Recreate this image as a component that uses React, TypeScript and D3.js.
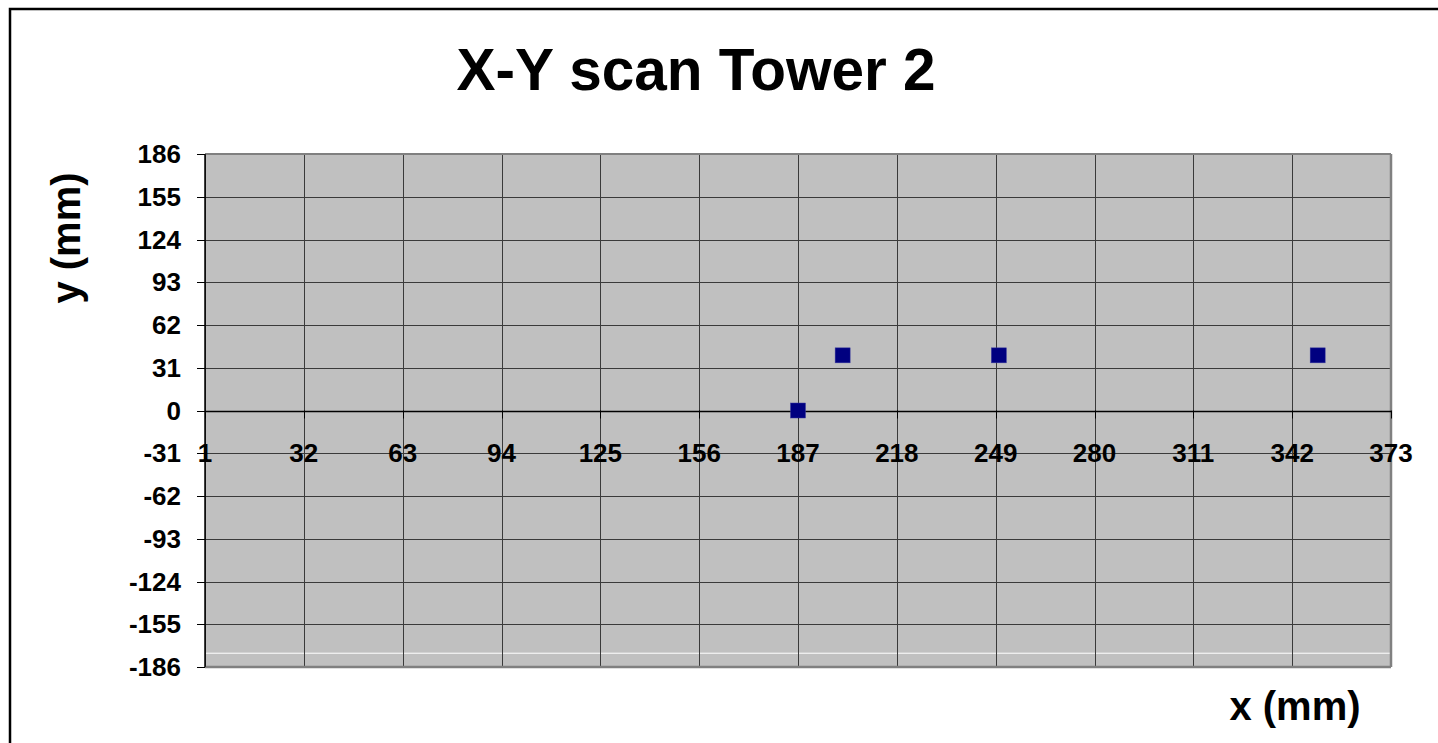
import React from "react";
import * as d3 from "d3";

const title = "X-Y scan Tower 2";
const xTitle = "x (mm)";
const yTitle = "y (mm)";
const xTicks = [1, 32, 63, 94, 125, 156, 187, 218, 249, 280, 311, 342, 373];
const yTicks = [186, 155, 124, 93, 62, 31, 0, -31, -62, -93, -124, -155, -186];
const xValues = [187, 201, 250, 350];
const yValues = [0, 40, 40, 40];
const whiteLineY = -176;

const W = 1438;
const H = 743;
const L = 205, R = 1391, T = 154, B = 667;

export default function App() {
  const x = d3.scaleLinear().domain([1, 373]).range([L, R]);
  const y = d3.scaleLinear().domain([-186, 186]).range([B, T]);
  const pts = xValues.map((v, i) => ({ x: v, y: yValues[i] }));
  const font = "Arial, 'Liberation Sans', Helvetica, sans-serif";
  const ms = 15;
  return (
    <svg width={W} height={H} style={{ position: "absolute", left: 0, top: 0, background: "#fff" }} fontFamily={font}>
      <rect x={10} y={9} width={W + 20} height={H + 20} fill="#fff" stroke="#000" strokeWidth={2.5} />
      <text x={696} y={90} textAnchor="middle" fontSize={58.5} fontWeight="bold">{title}</text>
      <rect x={L} y={T} width={R - L} height={B - T} fill="#c0c0c0" />
      {/* white artifact line */}
      <line x1={L} x2={R} y1={y(whiteLineY)} y2={y(whiteLineY)} stroke="#fff" strokeWidth={1} />
      {yTicks.map((t) => (
        <line key={"gy" + t} x1={L} x2={R} y1={Math.round(y(t)) + 0.5} y2={Math.round(y(t)) + 0.5} stroke="#3a3a3a" strokeWidth={1} />
      ))}
      {xTicks.map((t) => (
        <line key={"gx" + t} x1={Math.round(x(t)) + 0.5} x2={Math.round(x(t)) + 0.5} y1={T} y2={B} stroke="#3a3a3a" strokeWidth={1} />
      ))}
      {/* plot frame */}
      <line x1={L} x2={R} y1={T} y2={T} stroke="#808080" strokeWidth={2} />
      <line x1={R} x2={R} y1={T} y2={B} stroke="#808080" strokeWidth={2.5} />
      <line x1={L} x2={R} y1={B} y2={B} stroke="#808080" strokeWidth={2.5} />
      {/* y axis */}
      <line x1={L} x2={L} y1={T} y2={B} stroke="#000" strokeWidth={1.5} />
      {yTicks.map((t) => (
        <g key={"yt" + t}>
          <line x1={L - 8} x2={L} y1={Math.round(y(t)) + 0.5} y2={Math.round(y(t)) + 0.5} stroke="#000" strokeWidth={1} />
          <text x={181} y={y(t) + 9} textAnchor="end" fontSize={26} fontWeight="bold">{t}</text>
        </g>
      ))}
      {/* x axis at y=0 */}
      <line x1={L} x2={R} y1={Math.round(y(0)) + 0.5} y2={Math.round(y(0)) + 0.5} stroke="#000" strokeWidth={1.5} />
      {xTicks.map((t) => (
        <g key={"xt" + t}>
          <line x1={Math.round(x(t)) + 0.5} x2={Math.round(x(t)) + 0.5} y1={y(0)} y2={y(0) + 8} stroke="#000" strokeWidth={1} />
          <text x={x(t)} y={y(-31) + 9} textAnchor="middle" fontSize={26} fontWeight="bold">{t}</text>
        </g>
      ))}
      {pts.map((p, i) => (
        <rect key={"p" + i} x={x(p.x) - ms / 2} y={y(p.y) - ms / 2} width={ms} height={ms} fill="#000080" stroke="#3a3aa0" strokeWidth={0.5} />
      ))}
      <text x={1295} y={720} textAnchor="middle" fontSize={40} fontWeight="bold">{xTitle}</text>
      <text transform={`translate(80,238) rotate(-90)`} textAnchor="middle" fontSize={40} fontWeight="bold">{yTitle}</text>
    </svg>
  );
}
